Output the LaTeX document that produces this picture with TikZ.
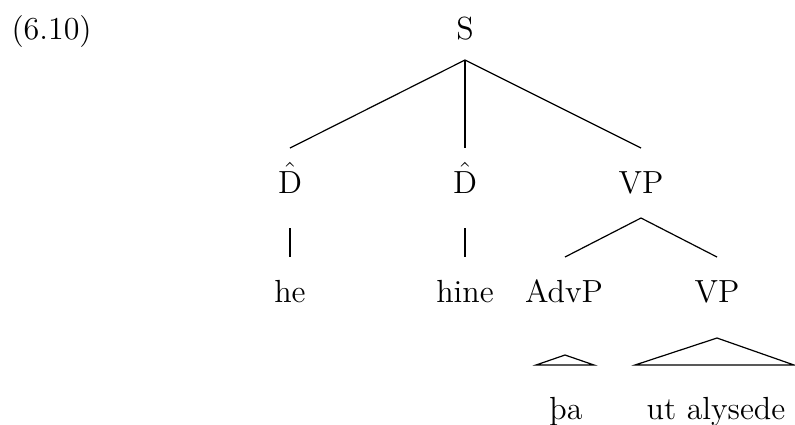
\documentclass[tikz,border=0pt]{standalone}
\begin{document}
\begin{tikzpicture}[x=0.375pt,y=-0.375pt,
  lbl/.style={anchor=base,inner sep=0pt,font=\fontsize{12}{14}\selectfont},
  edge/.style={draw=black,line width=0.45pt}]
\useasboundingbox (0,0) rectangle (795,424);
% labels
\node[lbl,anchor=base west] (num) at (11,39) {(6.10)};
\node[lbl] (S) at (465,39) {S};
\node[lbl] (D1) at (290,193) {$\hat{\mathrm{D}}$};
\node[lbl] (D2) at (465,193) {$\hat{\mathrm{D}}$};
\node[lbl] (VP1) at (641,193) {VP};
\node[lbl] (he) at (290,302) {he};
\node[lbl] (hine) at (465,302) {hine};
\node[lbl] (AdvP) at (564,302) {AdvP};
\node[lbl] (VP2) at (717,302) {VP};
\node[lbl] (tha) at (566,419) {þa};
\node[lbl] (ut) at (716,419) {ut alysede};
% attachment points
\coordinate (S-b) at (465,60);
\coordinate (D1-t) at (290,148);
\coordinate (D2-t) at (465,148);
\coordinate (VP1-t) at (641,148);
\coordinate (D1-b) at (290,228);
\coordinate (he-t) at (290,257);
\coordinate (D2-b) at (465,228);
\coordinate (hine-t) at (465,257);
\coordinate (VP1-b) at (641,218);
\coordinate (AdvP-t) at (565,257);
\coordinate (VP2-t) at (717,257);
\coordinate (AdvP-b) at (565,355);
\coordinate (tha-l) at (536,365);
\coordinate (tha-r) at (594,365);
\coordinate (VP2-b) at (717,338);
\coordinate (ut-l) at (635,365);
\coordinate (ut-r) at (794,365);
% connectors
\draw[edge] (S-b) -- (D1-t);
\draw[edge] (S-b) -- (D2-t);
\draw[edge] (S-b) -- (VP1-t);
\draw[edge] (D1-b) -- (he-t);
\draw[edge] (D2-b) -- (hine-t);
\draw[edge] (VP1-b) -- (AdvP-t);
\draw[edge] (VP1-b) -- (VP2-t);
\draw[edge] (AdvP-b) -- (tha-l) -- (tha-r) -- cycle;
\draw[edge] (VP2-b) -- (ut-l) -- (ut-r) -- cycle;
\end{tikzpicture}
\end{document}
